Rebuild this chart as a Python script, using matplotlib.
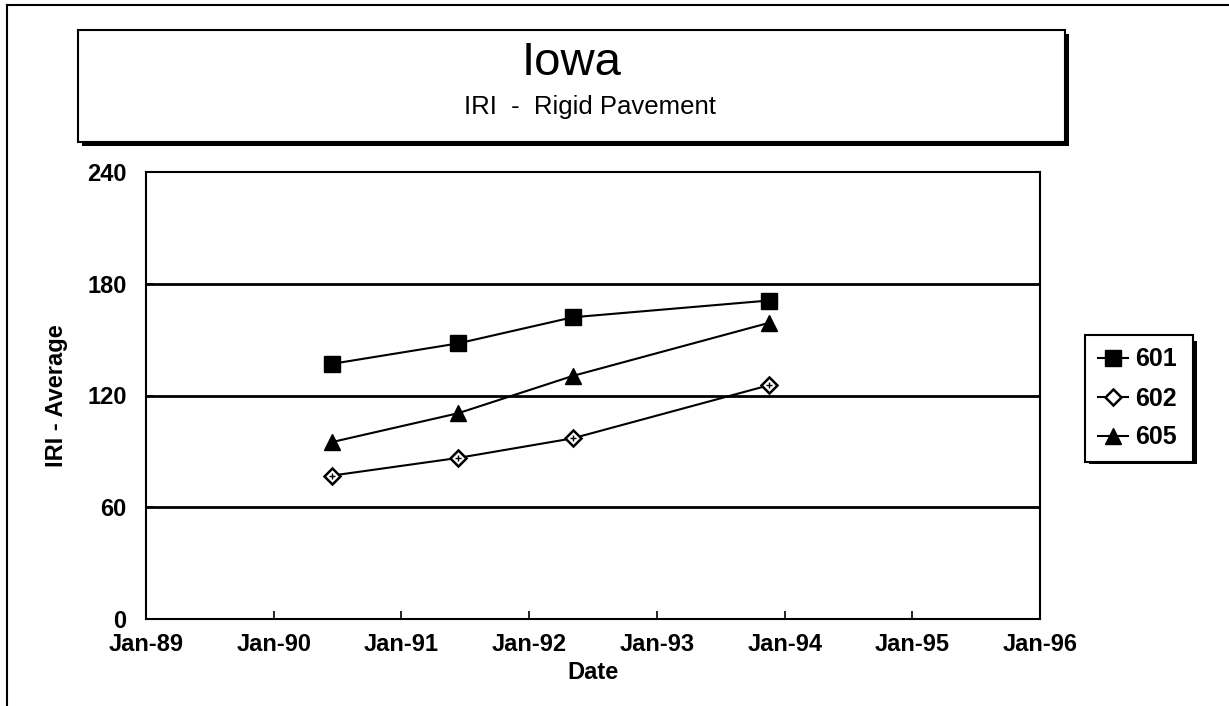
import datetime as dt
import matplotlib
matplotlib.use("Agg")
import matplotlib.pyplot as plt
import matplotlib.dates as mdates
from matplotlib.patches import Rectangle
from matplotlib.lines import Line2D

plt.rcParams['font.family'] = ['Liberation Sans', 'DejaVu Sans']

dates = [dt.date(1990, 6, 17), dt.date(1991, 6, 13), dt.date(1992, 5, 5), dt.date(1993, 11, 17)]
iri_601 = [137, 148, 162, 171]
iri_602 = [77, 86.5, 97, 125.5]
iri_605 = [95, 110.5, 130.5, 159]
y_ticks = [0, 60, 120, 180, 240]
x_years = list(range(1989, 1997))

W, H = 1229, 706
fig = plt.figure(figsize=(W / 100, H / 100), dpi=100)


def fx(px):
    return px / W


def fy(py):
    return 1 - py / H


# outer frame (left + top edges visible)
fig.add_artist(Line2D([fx(7), fx(7)], [fy(5), 0], color='black', lw=1.5))
fig.add_artist(Line2D([fx(7), 1], [fy(5), fy(5)], color='black', lw=1.5))

# title box with shadow
tb_l, tb_t, tb_r, tb_b = 78, 30, 1065, 142
fig.add_artist(Rectangle((fx(tb_l + 4), fy(tb_b + 4)), fx(tb_r - tb_l), fy(tb_t) - fy(tb_b),
                         facecolor='black', edgecolor='none', zorder=-1))
fig.add_artist(Rectangle((fx(tb_l), fy(tb_b)), fx(tb_r - tb_l), fy(tb_t) - fy(tb_b),
                         facecolor='white', edgecolor='black', lw=1.5, zorder=-0.5))
fig.text(fx((tb_l + tb_r) / 2), fy(63), "Iowa", fontsize=34, ha='center', va='center')
fig.text(fx((tb_l + tb_r) / 2 + 18), fy(107), "IRI  -  Rigid Pavement", fontsize=18.5, ha='center', va='center')

ax = fig.add_axes([fx(146), fy(619), fx(1040 - 146), fy(172) - fy(619)])

ax.plot(dates, iri_601, color='black', lw=1.5, marker='s', markersize=11,
        markerfacecolor='black', markeredgecolor='black', label='601', zorder=4)
ax.plot(dates, iri_602, color='black', lw=1.5, marker='D', markersize=8.5,
        markerfacecolor='white', markeredgecolor='black', markeredgewidth=1.8, label='602', zorder=4)
ax.plot(dates, iri_602, linestyle='none', marker='+', markersize=5, color='black',
        markeredgewidth=1.0, zorder=5)
ax.plot(dates, iri_605, color='black', lw=1.5, marker='^', markersize=11,
        markerfacecolor='black', markeredgecolor='black', label='605', zorder=4)

ax.set_xlim(dt.date(1989, 1, 1), dt.date(1996, 1, 1))
ax.set_ylim(0, 240)
ax.set_yticks(y_ticks)
ax.set_xticks([dt.date(y, 1, 1) for y in x_years])
ax.xaxis.set_major_formatter(mdates.DateFormatter('%b-%y'))

for yv in y_ticks[1:-1]:
    ax.axhline(yv, color='black', lw=2, zorder=1)

for s in ax.spines.values():
    s.set_linewidth(1.5)

ax.tick_params(direction='in', length=6, width=1.2, labelsize=17, pad=10)
ax.tick_params(axis='y', pad=14)
for lbl in ax.get_xticklabels() + ax.get_yticklabels():
    lbl.set_fontweight('bold')

ax.set_xlabel('Date', fontsize=17, fontweight='bold', labelpad=4)
ax.set_ylabel('IRI - Average', fontsize=17, fontweight='bold', labelpad=14)

# legend box with shadow
lg_l, lg_t, lg_r, lg_b = 1085, 337, 1193, 460
fig.add_artist(Rectangle((fx(lg_l + 4), fy(lg_b + 4)), fx(lg_r - lg_l), fy(lg_t) - fy(lg_b),
                         facecolor='black', edgecolor='none', zorder=-1))
leg = ax.legend(loc='center', bbox_to_anchor=(fx(lg_l), fy(lg_b), fx(lg_r - lg_l), fy(lg_t) - fy(lg_b)),
                bbox_transform=fig.transFigure, mode='expand', frameon=True,
                fancybox=False, handlelength=1.2, handletextpad=0.3, borderaxespad=0,
                borderpad=0.5, labelspacing=0.6, prop={'weight': 'bold', 'size': 18})
leg.get_frame().set_edgecolor('black')
leg.get_frame().set_linewidth(1.5)
leg.get_frame().set_alpha(1)

fig.savefig('out.png', dpi=100)
